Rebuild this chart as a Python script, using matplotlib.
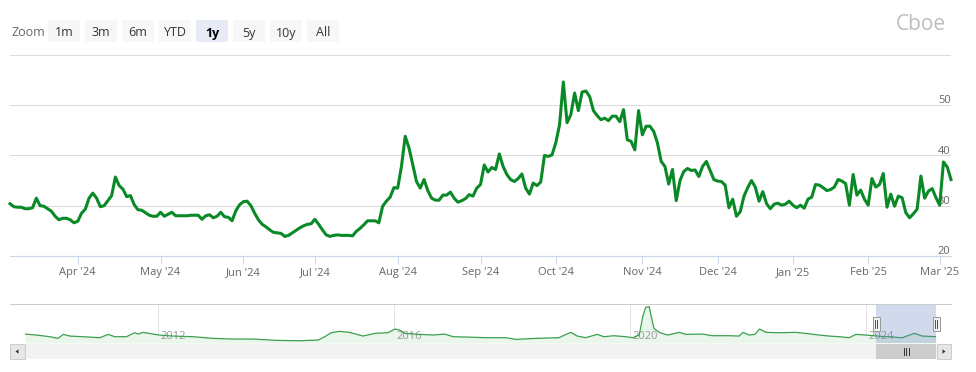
import matplotlib
matplotlib.use('Agg')
import matplotlib.pyplot as plt
from matplotlib.patches import FancyBboxPatch, Rectangle, Polygon

W, H = 976, 372
plt.rcParams['font.family'] = ['Open Sans', 'DejaVu Sans']

# daily closes, one per trading day (5 Mar 2024 .. 5 Mar 2025)
ovx = [
    30.4, 29.8, 29.7, 29.7, 29.4, 29.4, 29.6, 31.5, 30.0, 29.9,
    29.4, 28.9, 27.9, 27.2, 27.5, 27.5, 27.2, 26.6, 26.9, 28.5,
    29.3, 31.5, 32.5, 31.5, 29.8, 30.0, 31.0, 32.0, 35.7, 34.0,
    33.3, 31.8, 32.0, 30.2, 29.2, 29.1, 28.6, 28.1, 27.9, 27.9,
    28.7, 27.9, 28.3, 28.7, 28.0, 28.0, 28.0, 28.0, 28.1, 28.1,
    28.1, 27.3, 28.0, 28.2, 27.6, 27.9, 28.7, 27.8, 27.7, 27.0,
    29.0, 30.2, 30.8, 30.9, 30.0, 28.5, 27.2, 26.3, 25.8, 25.2,
    24.7, 24.6, 24.5, 23.9, 24.1, 24.6, 25.1, 25.6, 26.0, 26.3,
    26.4, 27.3, 26.3, 25.2, 24.2, 23.9, 24.1, 24.2, 24.1, 24.1,
    24.1, 24.0, 24.9, 25.5, 26.2, 27.0, 27.0, 27.0, 26.6, 29.9,
    30.9, 31.7, 33.6, 33.5, 37.8, 43.8, 41.5, 38.1, 34.8, 33.5,
    35.2, 33.0, 31.5, 31.1, 31.1, 32.1, 32.1, 32.7, 31.5, 30.7,
    31.0, 31.4, 32.2, 31.9, 33.5, 34.2, 38.1, 36.7, 37.6, 37.2,
    40.3, 37.8, 36.2, 35.2, 34.8, 35.4, 36.3, 33.5, 32.3, 34.5,
    34.0, 34.7, 40.0, 39.8, 40.1, 42.5, 46.1, 54.6, 46.5, 48.1,
    52.4, 48.9, 52.6, 52.8, 51.7, 48.9, 47.9, 47.1, 47.4, 46.9,
    47.8, 47.8, 46.7, 49.1, 43.1, 42.8, 41.1, 48.9, 44.1, 45.8,
    45.8, 44.8, 42.5, 38.8, 37.8, 34.3, 37.2, 31.0, 35.0, 36.8,
    37.4, 37.0, 37.1, 35.8, 37.8, 38.8, 37.0, 35.2, 34.9, 34.8,
    34.1, 29.6, 31.3, 27.9, 28.8, 31.9, 33.6, 35.0, 33.7, 30.9,
    32.8, 30.4, 29.4, 30.3, 30.5, 30.1, 30.3, 30.9, 30.1, 29.6,
    30.1, 29.5, 31.3, 31.7, 34.2, 34.1, 33.6, 33.0, 33.2, 33.7,
    35.2, 34.9, 34.4, 30.1, 36.2, 32.1, 33.1, 31.3, 30.1, 35.4,
    33.7, 34.2, 36.4, 29.7, 32.3, 29.9, 31.9, 31.6, 28.6, 27.6,
    28.4, 29.3, 35.9, 31.5, 32.9, 33.4, 31.6, 30.1, 38.7, 37.7,
    35.2,
]
# first trading day of each month (position in the ordinal axis)
month_idx = [18, 40, 62, 81, 103, 125, 145, 168, 188, 208, 228, 247]
month_labels = ["Apr '24", "May '24", "Jun '24", "Jul '24", "Aug '24", "Sep '24",
                "Oct '24", "Nov '24", "Dec '24", "Jan '25", "Feb '25", "Mar '25"]
y_ticks = [20, 30, 40, 50, 60]
y_labels = ['20', '30', '40', '50', '']

# navigator: full history, coarse
nav_years = [2009.75, 2009.94, 2010.17, 2010.31, 2010.40, 2010.51, 2010.73, 2011.02, 2011.16, 2011.27,
             2011.47, 2011.61, 2011.67, 2011.75, 2011.92, 2012.03, 2012.26, 2012.60, 2012.94, 2013.28,
             2013.62, 2014.01, 2014.41, 2014.72, 2014.83, 2014.94, 2015.08, 2015.25, 2015.48, 2015.68,
             2015.90, 2016.02, 2016.10, 2016.19, 2016.44, 2016.67, 2016.86, 2017.01, 2017.23, 2017.57,
             2017.90, 2018.07, 2018.41, 2018.80, 2018.92, 2019.00, 2019.11, 2019.25, 2019.45, 2019.56,
             2019.73, 2019.93, 2020.05, 2020.16, 2020.22, 2020.27, 2020.33, 2020.37, 2020.41, 2020.50,
             2020.64, 2020.84, 2020.95, 2021.23, 2021.40, 2021.68, 2021.85, 2021.92, 2022.02, 2022.12,
             2022.20, 2022.31, 2022.53, 2022.81, 2022.98, 2023.21, 2023.38, 2023.55, 2023.72, 2023.83,
             2024.00, 2024.34, 2024.62, 2024.82, 2024.96, 2025.19]
nav_values = [43.6, 39.1, 31.5, 24.0, 42.1, 34.5, 31.5, 27.0, 42.1, 31.5,
              31.5, 49.7, 43.6, 51.2, 43.6, 39.1, 34.5, 31.5, 24.0, 20.9,
              20.9, 14.9, 13.3, 16.4, 31.5, 49.7, 55.8, 51.2, 34.5, 46.7,
              49.7, 66.4, 61.8, 46.7, 42.1, 39.1, 43.6, 31.5, 30.0, 27.0,
              27.0, 19.4, 24.0, 27.0, 42.1, 51.2, 34.5, 27.0, 42.1, 31.5,
              36.1, 31.5, 27.0, 39.1, 122.4, 164.8, 167.9, 114.8, 69.4, 51.2,
              39.1, 51.2, 42.1, 43.6, 36.1, 36.1, 34.5, 51.2, 39.1, 42.1,
              66.4, 51.2, 49.7, 51.2, 46.7, 39.1, 34.5, 31.5, 27.0, 42.1,
              39.1, 31.5, 27.0, 46.7, 34.5, 31.5]
nav_year_ticks = [2012, 2016, 2020, 2024]
selected = (2024.18, 2025.19)

zoom_buttons = ['1m', '3m', '6m', 'YTD', '1y', '5y', '10y', 'All']
active_button = '1y'

GREEN = '#0a8a27'
LABEL = '#666666'


def box(x0, y0, x1, y1):
    # pixel rectangle (top-left origin) -> figure fraction
    return [x0 / W, 1 - y1 / H, (x1 - x0) / W, (y1 - y0) / H]


fig = plt.figure(figsize=(W / 100, H / 100), dpi=100)

# main chart
ax = fig.add_axes(box(10, 54.8, 951, 256))
x = list(range(len(ovx)))
ax.plot(x, ovx, color=GREEN, lw=2.2, solid_joinstyle='round', zorder=3, clip_on=False)
ax.set_xlim(0, len(ovx) - 1)
ax.set_ylim(y_ticks[0], y_ticks[-1])
for s in ['top', 'left', 'right']:
    ax.spines[s].set_visible(False)
ax.spines['bottom'].set_color('#ccd6eb')
ax.spines['bottom'].set_linewidth(0.8)
ax.set_yticks(y_ticks)
ax.tick_params(axis='y', length=0, labelleft=False)
ax.grid(axis='y', color='#dcdcdc', lw=0.75)
ax.set_axisbelow(True)
ax.set_xticks(month_idx, month_labels)
ax.tick_params(axis='x', length=6, width=0.75, color='#ccd6eb',
               labelcolor=LABEL, labelsize=8, pad=2)
for v, lab in zip(y_ticks, y_labels):
    ax.annotate(lab, xy=(1, v), xycoords=('axes fraction', 'data'),
                xytext=(-0.3, 1.3), textcoords='offset points',
                ha='right', va='baseline', fontsize=8, color=LABEL, zorder=2)

# navigator
nav = fig.add_axes(box(25, 304, 936, 343))
nav.set_xlim(nav_years[0], nav_years[-1])
nav.set_ylim(3, 180)
nav.axis('off')
nav.fill_between(nav_years, nav_values, 3, color='#eaf5eb', lw=0, zorder=1)
nav.plot(nav_years, nav_values, color='#3a9f4e', lw=0.9, zorder=2)
for yr in nav_year_ticks:
    nav.axvline(yr, color='#e3e3e3', lw=0.75, zorder=0)
    nav.annotate(str(yr), xy=(yr, 0), xycoords=('data', 'axes fraction'),
                 xytext=(2, 2.6), textcoords='offset points', ha='left',
                 va='baseline', fontsize=8, color='#999999', zorder=1)
nav.axvspan(*selected, color=(0.4, 0.522, 0.761), alpha=0.3, lw=0, zorder=3)

# overlay in pixel coordinates: buttons, logo, scrollbar, handles
ov = fig.add_axes([0, 0, 1, 1], zorder=5)
ov.set_xlim(0, W)
ov.set_ylim(H, 0)
ov.axis('off')

ov.text(11, 31.5, 'Zoom', ha='left', va='center_baseline', fontsize=9, color=LABEL)
for k, lab in enumerate(zoom_buttons):
    x0 = 48 + 37 * k
    on = lab == active_button
    ov.add_patch(FancyBboxPatch((x0, 20), 32, 22, boxstyle='round,pad=0,rounding_size=2',
                                fc='#e6ebf5' if on else '#f7f7f7', ec='none'))
    ov.text(x0 + 16, 31.5, lab, ha='center', va='center_baseline', fontsize=9,
            color='#000000' if on else '#333333', fontweight='bold' if on else 'normal')

ov.text(946, 30, 'Cboe', ha='right', va='baseline', fontsize=15, color='#bdbdbd')

ov.plot([10, 951], [304, 304], color='#cccccc', lw=0.75)


def nav_px(yr):
    return 25 + (yr - nav_years[0]) / (nav_years[-1] - nav_years[0]) * 911


sx0, sx1 = nav_px(selected[0]), nav_px(selected[1])

# scrollbar
ov.add_patch(Rectangle((10, 344), 941, 15, fc='#f2f2f2', ec='none'))
ov.add_patch(Rectangle((sx0, 344), sx1 - sx0, 15, fc='#cccccc', ec='none'))
cx = (sx0 + sx1) / 2
for dx in (-2.5, 0, 2.5):
    ov.plot([cx + dx, cx + dx], [348, 355], color='#333333', lw=0.7)
ov.add_patch(Rectangle((10, 344), 15, 15, fc='#e6e6e6', ec='#cccccc', lw=0.7))
ov.add_patch(Polygon([(15.5, 351.5), (18.5, 349.3), (18.5, 353.7)], fc='#333333', ec='none'))
ov.add_patch(Rectangle((936.5, 344), 14.5, 15, fc='#e6e6e6', ec='#cccccc', lw=0.7))
ov.add_patch(Polygon([(945.5, 351.5), (942.5, 349.3), (942.5, 353.7)], fc='#333333', ec='none'))

# navigator handles
for hx in (sx0, sx1):
    ov.add_patch(Rectangle((hx - 3.5, 316.5), 7, 14.5, fc='#f2f2f2', ec='#999999', lw=0.7))
    for dx in (-1, 1):
        ov.plot([hx + dx, hx + dx], [320, 328], color='#333333', lw=0.6)

fig.savefig('out.png', dpi=100)
